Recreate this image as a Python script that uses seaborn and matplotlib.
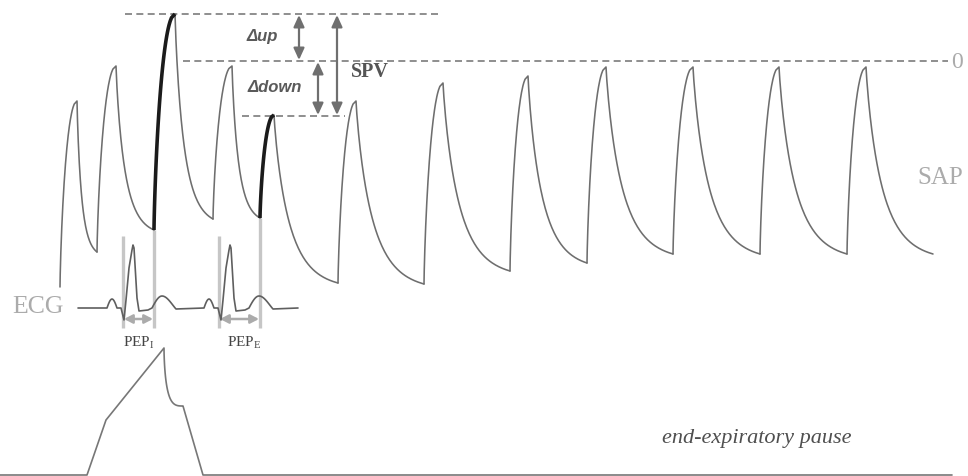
import numpy as np
import pandas as pd
import matplotlib
matplotlib.use("Agg")
import matplotlib.pyplot as plt
import seaborn as sns
from matplotlib.patches import FancyArrowPatch

# ---------------- data (screen units: x = time, y = level, downwards) ----------------
sap_foot_t = [60, 97, 154, 213, 260, 338, 424, 510, 587, 673, 760, 847]
sap_foot_v = [287, 252, 230, 219, 218, 283, 284, 271, 263, 254, 254, 254]
sap_peak_t = [77, 116, 175, 232, 274, 356, 443, 528, 606, 693, 779, 866]
sap_peak_v = [101, 66, 14, 66, 115, 101, 83, 76, 67, 67, 67, 67]
sap_last_t = 933
sap_last_v = 254
highlight_beats = [2, 4]          # inspiratory (max) and expiratory (min) beats
ref_level = 61                    # apnoea reference ("0")

ecg_start, ecg_end, ecg_base = 78, 298, 308
ecg_r_t = [133, 230]
ecg_p_dt = (-26, -16)
ecg_p_amp = 9
ecg_qrs_dt = [-12, -9, -7, -4, -1, 0, 1, 4, 6, 15, 19]
ecg_qrs_amp = [0, -12, 8, 40, 58, 63, 60, 10, -3, -2, 0]
ecg_t_dt = (19, 29, 43)
ecg_t_amp = 12
pep_start = [123, 219]

paw_t = [0, 87, 106, 164]
paw_v = [475, 475, 420, 348]
paw_knee_t, paw_knee_v = 183, 406
paw_end_t = [203, 952]
paw_end_v = [475, 475]

# ---------------- build curves ----------------
def rise(t0, v0, t1, v1, n=60):
    s = np.linspace(0, 1, n)
    xf = (1 - np.sqrt(1 - s)) ** 1.3
    return t0 + (t1 - t0) * xf, v0 + (v1 - v0) * s

def decay(t0, v0, t1, v1, n=80, k=3.4):
    s = np.linspace(0, 1, n)
    w = s ** 0.88
    f = (np.exp(-k * w) - np.exp(-k)) / (1 - np.exp(-k))
    return t0 + (t1 - t0) * s, v1 + (v0 - v1) * f

rows = []
hl = []
nb = len(sap_peak_t)
for i in range(nb):
    rt, rv = rise(sap_foot_t[i], sap_foot_v[i], sap_peak_t[i], sap_peak_v[i])
    if i + 1 < nb:
        et, ev = sap_foot_t[i + 1], sap_foot_v[i + 1]
    else:
        et, ev = sap_last_t, sap_last_v
    dt_, dv_ = decay(sap_peak_t[i], sap_peak_v[i], et, ev)
    tt = np.concatenate([rt, dt_[1:]])
    vv = np.concatenate([rv, dv_[1:]])
    for a, b in zip(tt, vv):
        rows.append((i, a, b))
    if i in highlight_beats:
        hl.append((rt, rv))
sap = pd.DataFrame(rows, columns=["beat", "t", "v"])

# ECG
et_list = [ecg_start]
ev_list = [0.0]
for R in ecg_r_t:
    s = np.linspace(0, 1, 14)
    et_list += list(R + ecg_p_dt[0] + (ecg_p_dt[1] - ecg_p_dt[0]) * s)
    ev_list += list(ecg_p_amp * np.sin(np.pi * s))
    et_list += [R + d for d in ecg_qrs_dt]
    ev_list += list(ecg_qrs_amp)
    s1 = np.linspace(0, 1, 12)
    et_list += list(R + ecg_t_dt[0] + (ecg_t_dt[1] - ecg_t_dt[0]) * s1)
    ev_list += list(ecg_t_amp * np.sin(np.pi / 2 * s1))
    et_list += list(R + ecg_t_dt[1] + (ecg_t_dt[2] - ecg_t_dt[1]) * s1[1:])
    ev_list += list(ecg_t_amp * np.cos(np.pi / 2 * s1[1:]) ** 1.3 - 1 * s1[1:] ** 8)
et_list.append(ecg_end)
ev_list.append(0.0)
ecg = pd.DataFrame({"t": et_list, "v": ecg_base - np.array(ev_list)})

# airway pressure
s = np.linspace(0, 1, 30)
kv = paw_v[-1] + (paw_knee_v - paw_v[-1]) * (1 - (1 - s) ** 3)
kt = paw_t[-1] + (paw_knee_t - paw_t[-1]) * s ** 1.6
paw = pd.DataFrame({"t": list(paw_t) + list(kt[1:]) + paw_end_t,
                    "v": list(paw_v) + list(kv[1:]) + paw_end_v})

# ---------------- figure ----------------
sns.set_theme(style="white")
plt.rcParams["mathtext.fontset"] = "custom"
plt.rcParams["mathtext.rm"] = "Liberation Serif"
plt.rcParams["mathtext.it"] = "Liberation Serif:italic"

fig = plt.figure(figsize=(9.68, 4.76), dpi=100)
ax = fig.add_axes([0, 0, 1, 1])

SAPC = "#6e6e6e"
LIGHT = "#c6c6c6"
DASH = "#7c7c7c"
ARROW = "#6f6f6f"

# PEP vertical markers (behind curves)
pep_end = [sap_foot_t[i] for i in highlight_beats]
pep_end_top = [sap_foot_v[i] for i in highlight_beats]
for x0, x1, ytop in zip(pep_start, pep_end, pep_end_top):
    ax.plot([x0, x0], [236, 328], color=LIGHT, lw=2.4, solid_capstyle="butt", zorder=1)
    ax.plot([x1, x1], [ytop, 328], color=LIGHT, lw=2.4, solid_capstyle="butt", zorder=1)
    ax.add_patch(FancyArrowPatch((x0 + 1, 319), (x1 - 1, 319),
                                 arrowstyle="<|-|>,head_length=5,head_width=2.6",
                                 color="#ababab", lw=1.8, zorder=2,
                                 shrinkA=0, shrinkB=0))

sns.lineplot(data=sap, x="t", y="v", units="beat", estimator=None, sort=False,
             color=SAPC, lw=1.15, ax=ax, zorder=3)
for rt, rv in hl:
    ax.plot(rt, rv, color="#1b1b1b", lw=2.6, solid_capstyle="butt", zorder=4)

sns.lineplot(data=ecg, x="t", y="v", estimator=None, sort=False,
             color="#5f5f5f", lw=1.2, ax=ax, zorder=3)
sns.lineplot(data=paw, x="t", y="v", estimator=None, sort=False,
             color="#777777", lw=1.2, ax=ax, zorder=3)

ax.set_xlim(0, 968)
ax.set_ylim(476, 0)
ax.axis("off")

# dashed reference lines
top_v = sap_peak_v[highlight_beats[0]]
bot_v = sap_peak_v[highlight_beats[1]]
dash = (0, (4.2, 2.6))
ax.plot([125, 442], [top_v, top_v], color=DASH, lw=1.2, ls=dash, zorder=2)
ax.plot([183, 948], [ref_level, ref_level], color=DASH, lw=1.2, ls=dash, zorder=2)
ax.plot([242, 345], [bot_v + 1, bot_v + 1], color=DASH, lw=1.2, ls=dash, zorder=2)

def darrow(x, y0, y1):
    ax.add_patch(FancyArrowPatch((x, y0 + 1), (x, y1 - 1),
                                 arrowstyle="<|-|>,head_length=7,head_width=3.2",
                                 color=ARROW, lw=1.6, zorder=5,
                                 shrinkA=0, shrinkB=0))

darrow(299, top_v, ref_level)
darrow(318, ref_level, bot_v + 1)
darrow(337, top_v, bot_v + 1)

ax.text(262, 36, "\u0394up", fontsize=12, fontweight="bold", fontstyle="italic",
        family="Liberation Sans", color="#5a5a5a", ha="center", va="center")
ax.text(275, 88, "\u0394down", fontsize=12, fontweight="bold", fontstyle="italic",
        family="Liberation Sans", color="#5a5a5a", ha="center", va="center")
ax.text(370, 72, "SPV", fontsize=14.5, fontweight="bold", family="Liberation Serif",
        color="#555555", ha="center", va="center")

ax.text(38, 307, "ECG", fontsize=18.5, family="Liberation Serif", color="#ababab",
        ha="center", va="center")
ax.text(940, 178, "SAP", fontsize=18, family="Liberation Serif", color="#ababab",
        ha="center", va="center")
ax.text(957, 62, "0", fontsize=17, family="Liberation Serif", color="#ababab",
        ha="center", va="center")

ax.text(139, 343, r"PEP$_{\mathrm{I}}$", fontsize=11, family="Liberation Serif",
        color="#444444", ha="center", va="center")
ax.text(244, 343, r"PEP$_{\mathrm{E}}$", fontsize=11, family="Liberation Serif",
        color="#444444", ha="center", va="center")

ax.text(757, 438, "end-expiratory pause", fontsize=16, fontstyle="italic",
        family="Liberation Serif", color="#4f4f4f", ha="center", va="center")

fig.savefig("out.png", dpi=100)
